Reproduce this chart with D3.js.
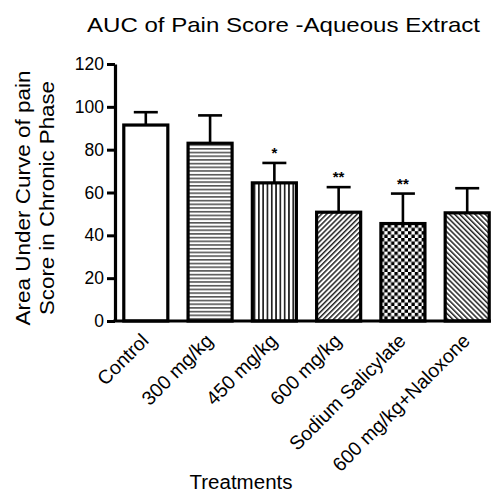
<!DOCTYPE html>
<html><head><meta charset="utf-8">
<script src="https://cdn.jsdelivr.net/npm/d3@7"></script>
<style>body{margin:0;background:#fff}svg{display:block}text{font-family:"Liberation Sans",Arial,sans-serif}</style>
</head><body>
<svg id="c" width="496" height="493"></svg>
<script>
const categories = ["Control","300 mg/kg","450 mg/kg","600 mg/kg","Sodium Salicylate","600 mg/kg+Naloxone"];
const means = [91.5, 83, 64.5, 50.8, 45.5, 50.5];
const errors = [6, 13, 9.3, 11.7, 14, 11.5];
const significance = ["", "", "*", "**", "**", ""];
const patterns = ["none","hlines","vlines","diagUp","checker","diagDown"];
const yTicks = [0,20,40,60,80,100,120];

const svg = d3.select("#c");
const axisX = 115;
const x = d3.scaleBand().domain(categories).range([118, 495]).paddingInner(0.315).paddingOuter(0.09);
const y = d3.scaleLinear().domain([0,120]).range([321, 64]);

const defs = svg.append("defs");
let p = defs.append("pattern").attr("id","hlines").attr("patternUnits","userSpaceOnUse").attr("width",6).attr("height",3.7);
p.append("rect").attr("width",6).attr("height",3.7).attr("fill","#fff");
p.append("rect").attr("y",0).attr("width",6).attr("height",1.6).attr("fill","#555");
p = defs.append("pattern").attr("id","vlines").attr("patternUnits","userSpaceOnUse").attr("width",4.3).attr("height",6);
p.append("rect").attr("width",4.3).attr("height",6).attr("fill","#fff");
p.append("rect").attr("x",0).attr("width",1.7).attr("height",6).attr("fill","#222");
p = defs.append("pattern").attr("id","diagUp").attr("patternUnits","userSpaceOnUse").attr("width",3.6).attr("height",3.6).attr("patternTransform","rotate(45)");
p.append("rect").attr("width",3.6).attr("height",3.6).attr("fill","#fff");
p.append("rect").attr("width",1.5).attr("height",3.6).attr("fill","#222");
p = defs.append("pattern").attr("id","diagDown").attr("patternUnits","userSpaceOnUse").attr("width",3.6).attr("height",3.6).attr("patternTransform","rotate(-45)");
p.append("rect").attr("width",3.6).attr("height",3.6).attr("fill","#fff");
p.append("rect").attr("width",1.5).attr("height",3.6).attr("fill","#222");
p = defs.append("pattern").attr("id","checker").attr("patternUnits","userSpaceOnUse").attr("width",6.8).attr("height",6.8);
p.append("rect").attr("width",6.8).attr("height",6.8).attr("fill","#fff");
p.append("rect").attr("width",3.4).attr("height",3.4).attr("fill","#000");
p.append("rect").attr("x",3.4).attr("y",3.4).attr("width",3.4).attr("height",3.4).attr("fill","#000");

// title
svg.append("text").attr("x",283.5).attr("y",32).attr("text-anchor","middle").attr("font-size",21)
  .attr("textLength",393).attr("lengthAdjust","spacingAndGlyphs").text("AUC of Pain Score -Aqueous Extract");

// y axis label
const yl = svg.append("text").attr("transform","translate(0,198) rotate(-90)").attr("text-anchor","middle").attr("font-size",21);
yl.append("tspan").attr("x",0).attr("y",30).attr("textLength",255).attr("lengthAdjust","spacingAndGlyphs").text("Area Under Curve of pain");
yl.append("tspan").attr("x",0).attr("y",54).attr("textLength",234).attr("lengthAdjust","spacingAndGlyphs").text("Score in Chronic Phase");

// bars
const g = svg.append("g");
g.selectAll("rect.bar").data(categories).join("rect").attr("class","bar")
  .attr("x",d=>x(d)).attr("width",x.bandwidth())
  .attr("y",(d,i)=>y(means[i])).attr("height",(d,i)=>y(0)-y(means[i]))
  .attr("fill",(d,i)=>patterns[i]==="none"?"#fff":`url(#${patterns[i]})`)
  .attr("stroke","#000").attr("stroke-width",3.2);

// error bars
categories.forEach((c,i)=>{
  const cx = x(c)+x.bandwidth()/2;
  const top = y(means[i]+errors[i]);
  g.append("line").attr("x1",cx).attr("x2",cx).attr("y1",y(means[i])).attr("y2",top).attr("stroke","#000").attr("stroke-width",2.6);
  g.append("line").attr("x1",cx-12).attr("x2",cx+12).attr("y1",top).attr("y2",top).attr("stroke","#000").attr("stroke-width",2.6);
  if (significance[i]) g.append("text").attr("x",cx).attr("y",top-5).attr("text-anchor","middle").attr("font-size",15).attr("font-weight","bold").text(significance[i]);
});

// y axis
const ya = svg.append("g").attr("transform",`translate(${axisX},0)`)
  .call(d3.axisLeft(y).tickValues(yTicks).tickSize(8).tickSizeOuter(0));
ya.select(".domain").attr("stroke-width",3.2);
ya.selectAll(".tick line").attr("stroke-width",3);
ya.selectAll(".tick text").attr("font-size",17.5).attr("fill","#000").attr("font-family","Liberation Sans, Arial, sans-serif").attr("x",-11);

// x axis
const xa = svg.append("g").attr("transform",`translate(0,${y(0)})`)
  .call(d3.axisBottom(x).tickSize(0).tickSizeOuter(0));
xa.select(".domain").attr("d",`M${axisX-1.6},0H491`).attr("stroke-width",3.2);
xa.selectAll(".tick text").attr("font-size",19.5).attr("fill","#000").attr("font-family","Liberation Sans, Arial, sans-serif")
  .attr("text-anchor","end").attr("dy",0).attr("y",0)
  .attr("transform","translate(4,21) rotate(-45)");

svg.append("text").attr("x",241).attr("y",489).attr("text-anchor","middle").attr("font-size",20)
  .attr("textLength",103).attr("lengthAdjust","spacingAndGlyphs").text("Treatments");
</script>
</body></html>
